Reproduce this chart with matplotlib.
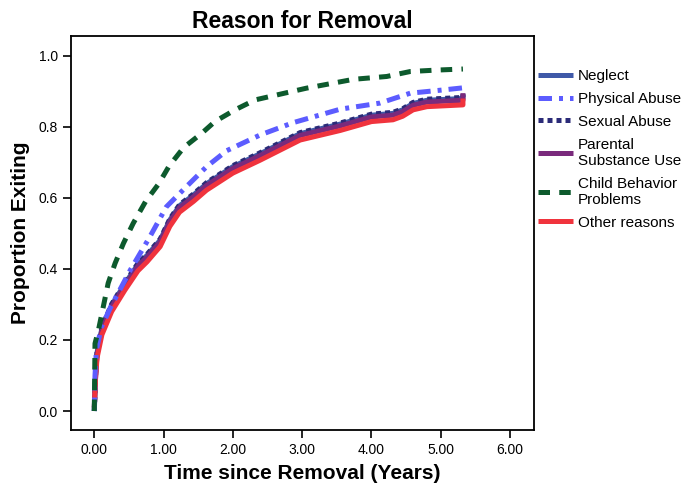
import matplotlib.pyplot as plt
import numpy as np

plt.rcParams['font.family'] = ['Liberation Sans', 'DejaVu Sans']

# curve samples (years, proportion exiting)
other_t = [0.0, 0.02, 0.04, 0.11, 0.25, 0.44, 0.63, 0.76, 0.95, 1.09, 1.23, 1.43, 1.62,
           1.81, 2.0, 2.39, 2.97, 3.55, 4.0, 4.31, 4.45, 4.6, 4.8, 5.32, 5.32]
other_v = [0.01, 0.1, 0.15, 0.215, 0.28, 0.34, 0.395, 0.42, 0.463, 0.52, 0.56, 0.59, 0.622,
           0.646, 0.67, 0.706, 0.763, 0.79, 0.815, 0.82, 0.83, 0.848, 0.857, 0.862, 0.88]

parental_t = other_t
parental_v = [0.01, 0.105, 0.16, 0.228, 0.293, 0.353, 0.408, 0.433, 0.476, 0.533, 0.573,
              0.603, 0.635, 0.659, 0.683, 0.719, 0.776, 0.803, 0.828, 0.833, 0.843, 0.861,
              0.87, 0.875, 0.895]

neglect_t = other_t
neglect_v = [0.0, 0.105, 0.165, 0.233, 0.298, 0.358, 0.413, 0.438, 0.481, 0.538, 0.578,
             0.608, 0.64, 0.664, 0.688, 0.724, 0.781, 0.808, 0.833, 0.838, 0.848, 0.866,
             0.875, 0.88, 0.89]

sexual_t = other_t
sexual_v = [0.0, 0.105, 0.167, 0.236, 0.301, 0.361, 0.416, 0.441, 0.484, 0.541, 0.581,
            0.611, 0.643, 0.667, 0.691, 0.727, 0.784, 0.811, 0.836, 0.841, 0.851, 0.869,
            0.878, 0.883, 0.893]

physical_t = [0.0, 0.01, 0.03, 0.1, 0.23, 0.52, 0.8, 1.04, 1.33, 1.62, 1.91, 2.39, 2.87,
              3.55, 4.12, 4.56, 5.03, 5.32, 5.32]
physical_v = [0.0, 0.1, 0.172, 0.235, 0.29, 0.397, 0.49, 0.575, 0.632, 0.688, 0.733, 0.777,
              0.812, 0.85, 0.867, 0.895, 0.904, 0.91, 0.924]

child_t = [0.0, 0.01, 0.06, 0.13, 0.2, 0.3, 0.42, 0.56, 0.74, 0.93, 1.08, 1.29, 1.55, 1.74,
           2.03, 2.32, 3.06, 3.74, 4.22, 4.56, 4.94, 5.32]
child_v = [0.0, 0.19, 0.228, 0.294, 0.36, 0.416, 0.472, 0.528, 0.59, 0.64, 0.69, 0.742,
           0.782, 0.815, 0.848, 0.876, 0.909, 0.934, 0.942, 0.956, 0.96, 0.963]

series = [
    ("Neglect", neglect_t, neglect_v, "#3F59A8", None),
    ("Physical Abuse", physical_t, physical_v, "#5C5CFF", [2.7, 1.4, 0.8, 1.4]),
    ("Sexual Abuse", sexual_t, sexual_v, "#2B2B78", [1.0, 0.8]),
    ("Parental\nSubstance Use", parental_t, parental_v, "#7A2A7C", None),
    ("Child Behavior\nProblems", child_t, child_v, "#0D5A2D", [2.3, 1.85]),
    ("Other reasons", other_t, other_v, "#F0333D", None),
]

fig = plt.figure(figsize=(6.97, 4.91), dpi=100)
ax = fig.add_axes([0.1019, 0.1242, 0.6642, 0.8025])

# draw order: hidden curves first, red on top of purple
order = [0, 2, 3, 5, 1, 4]
handles = [None] * len(series)
for i in order:
    label, t, v, color, dashes = series[i]
    line, = ax.plot(t, v, color=color, linewidth=3.6, label=label,
                    solid_capstyle="butt", dash_capstyle="butt")
    if dashes is not None:
        line.set_dashes(dashes)
    handles[i] = line

ax.set_xlim(-0.336, 6.345)
ax.set_ylim(-0.0535, 1.056)
ax.set_xticks(np.arange(0, 7, 1))
ax.set_xticklabels([f"{x:.2f}" for x in range(7)])
ax.set_yticks(np.arange(0, 1.01, 0.2))
ax.set_yticklabels([f"{y:.1f}" for y in np.arange(0, 1.01, 0.2)])
ax.tick_params(direction="out", length=6, width=1.2, labelsize=10, colors="black")
for sp in ax.spines.values():
    sp.set_linewidth(1.3)

ax.set_title("Reason for Removal", fontsize=16.5, fontweight="bold", pad=6)
ax.set_xlabel("Time since Removal (Years)", fontsize=15, fontweight="bold", labelpad=5)
ax.set_ylabel("Proportion Exiting", fontsize=15, fontweight="bold", labelpad=6)

fig.legend(handles=handles, labels=[s[0] for s in series], loc="upper left",
           bbox_to_anchor=(538 / 697, 1 - 69 / 491), frameon=False, fontsize=11,
           handlelength=2.3, handletextpad=0.33, labelspacing=0.58,
           borderpad=0, borderaxespad=0)

fig.savefig("out.png", dpi=100)
